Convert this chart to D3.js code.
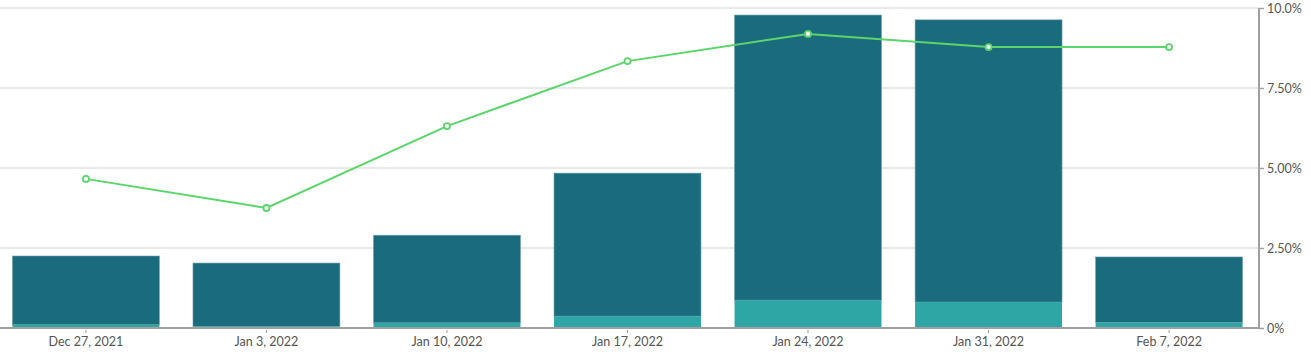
<!DOCTYPE html>
<html><head><meta charset="utf-8">
<script src="https://cdn.jsdelivr.net/npm/d3@7"></script>
<style>body{margin:0;background:#fff}svg text{font-family:Lato,"Open Sans",sans-serif;}</style>
</head><body><svg id="c" width="1311" height="363"></svg>
<script>
const categories = ["Dec 27, 2021","Jan 3, 2022","Jan 10, 2022","Jan 17, 2022","Jan 24, 2022","Jan 31, 2022","Feb 7, 2022"];
const lowerValues = [0.10, 0.05, 0.16, 0.37, 0.87, 0.81, 0.17];
const upperValues = [2.15, 1.98, 2.74, 4.47, 8.91, 8.82, 2.05];
const lineValues = [4.66, 3.75, 6.31, 8.34, 9.19, 8.78, 8.78];
const yTicks = [0, 2.5, 5, 7.5, 10];
const yTickLabels = ["0%","2.50%","5.00%","7.50%","10.0%"];

const svg = d3.select("#c");
const pLeft = 0, pRight = 1259, pTop = 8, pBottom = 328;
const x = d3.scaleBand().domain(categories).range([pLeft - 2, pRight - 2]).paddingInner(0.186).paddingOuter(0.08);
const y = d3.scaleLinear().domain([0, 10]).range([pBottom, pTop]);

// grid
svg.append("g").selectAll("line").data(yTicks.filter(d=>d>0)).join("line")
  .attr("x1", pLeft).attr("x2", pRight).attr("y1", d=>y(d)).attr("y2", d=>y(d))
  .attr("stroke", "#e2e2e2").attr("stroke-width", 1.5);

// bars
const g = svg.append("g");
categories.forEach((c,i)=>{
  g.append("rect").attr("x", x(c)).attr("width", x.bandwidth())
    .attr("y", y(lowerValues[i]+upperValues[i])).attr("height", y(lowerValues[i]) - y(lowerValues[i]+upperValues[i]))
    .attr("fill", "#1a6b7c").attr("stroke", "#6fa3ad").attr("stroke-width", 0.6);
  g.append("rect").attr("x", x(c)).attr("width", x.bandwidth())
    .attr("y", y(lowerValues[i])).attr("height", y(0) - y(lowerValues[i]))
    .attr("fill", "#2ea6a5");
});

// x axis
const xa = svg.append("g").attr("transform", `translate(0,${pBottom})`)
  .call(d3.axisBottom(x).tickSize(5).tickPadding(4));
xa.select(".domain").attr("stroke", "#a0a0a0").attr("stroke-width", 2).attr("d", `M${pLeft},0H${pRight}`);
xa.selectAll(".tick line").attr("stroke", "#999").attr("y1", 2);
xa.selectAll("text").attr("fill", "#555").attr("font-size", 12.5);

// y axis right
const ya = svg.append("g").attr("transform", `translate(${pRight},0)`)
  .call(d3.axisRight(y).tickValues(yTicks).tickFormat((d,i)=>yTickLabels[i]).tickSize(5).tickPadding(3));
ya.select(".domain").attr("stroke", "#a0a0a0").attr("stroke-width", 2).attr("d", `M0,${pTop}V${pBottom}`);
ya.selectAll(".tick line").attr("stroke", "#a0a0a0").attr("stroke-width", 1.5);
ya.selectAll("text").attr("fill", "#555").attr("font-size", 12.5);

// line
const cx = c => x(c) + x.bandwidth()/2;
svg.append("path").datum(lineValues)
  .attr("d", d3.line().x((d,i)=>cx(categories[i])).y(d=>y(d)))
  .attr("fill", "none").attr("stroke", "#5bd56b").attr("stroke-width", 2);
svg.append("g").selectAll("circle").data(lineValues).join("circle")
  .attr("cx", (d,i)=>cx(categories[i])).attr("cy", d=>y(d)).attr("r", 3)
  .attr("fill", "#fff").attr("stroke", "#5bd56b").attr("stroke-width", 1.8);
</script></body></html>
